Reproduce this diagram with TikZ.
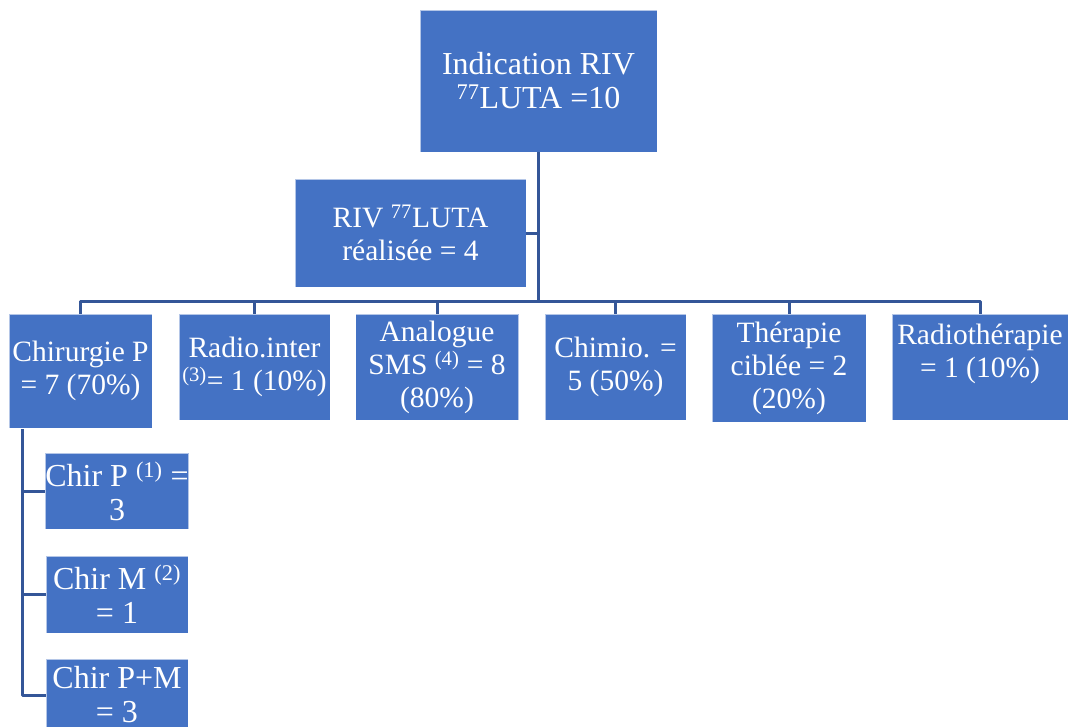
\documentclass[tikz,border=0pt]{standalone}
\usepackage{fontspec}
\setmainfont{Liberation Serif}
\definecolor{boxblue}{RGB}{68,114,196}
\definecolor{linkblue}{RGB}{52,86,152}
\begin{document}
\begin{tikzpicture}[x=1pt, y=-1pt, line join=round,
	box/.style 2 args={fill=boxblue, draw=white, draw opacity=0.6, line width=0.8pt, text=white, align=center, inner sep=0pt, minimum width=#1pt, minimum height=#2pt, font=\fontsize{29.5}{33}\selectfont},
	big/.style={font=\fontsize{32}{34}\selectfont},
	link/.style={draw=linkblue, line width=3pt}]
	\useasboundingbox (0,0) rectangle (1073,726);
	\clip (0,0) rectangle (1073,726) ; % vùng lấy hình
	\node[box={237}{142}, big] (top) at (538.5,81) {Indication RIV\\\textsuperscript{77}LUTA =10};
	\node[box={231}{108}] (riv) at (410.5,233) {RIV \textsuperscript{77}LUTA\\réalisée = 4};
	\node[box={143}{114}] (chir) at (80.5,371) {Chirurgie P\\= 7 (70\%)};
	\node[box={151}{106}] (radio) at (254.5,367) {Radio.inter\\\textsuperscript{(3)}= 1 (10\%)};
	\node[box={163}{106}] (analog) at (437,367) {Analogue\\SMS \textsuperscript{(4)} = 8\\(80\%)};
	\node[box={141}{106}] (chimio) at (615.5,367) {Chimio. =\\5 (50\%)};
	\node[box={154}{108}] (therap) at (789,368) {Thérapie\\ciblée = 2\\(20\%)};
	\node[box={176}{106}] (radioth) at (980,367) {Radiothérapie\\= 1 (10\%)\\\mbox{}};
	\node[box={142}{76}, big] (chirP) at (117,491) {Chir P \textsuperscript{(1)} =\\3};
	\node[box={142}{77}, big] (chirM) at (117,594.5) {Chir M \textsuperscript{(2)}\\= 1};
	\node[box={142}{72}, big] (chirPM) at (117,695) {Chir P+M\\= 3};
	\coordinate (hub) at (538.5,301);
	\coordinate (rail) at (22,429);
	\draw[link] (top.south) -- (hub);
	\draw[link] (riv.east) -- (riv.east -| hub);
	\draw[link] (chir.north) |- (hub) -| (radioth.north); % thanh ngang
	\foreach \n in {radio,analog,chimio,therap}
	\draw[link] (\n.north) -- (\n.north |- hub);
	\draw[link] (rail) |- (chirPM.west);
	\foreach \n in {chirP,chirM}
	\draw[link] (\n.west) -- (\n.west -| rail);
\end{tikzpicture}
\end{document}
